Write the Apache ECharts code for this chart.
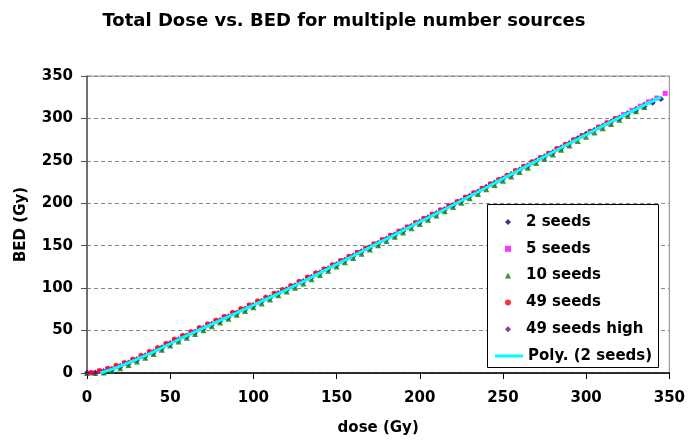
<!DOCTYPE html>
<html>
<head>
<meta charset="utf-8">
<script src="https://cdn.jsdelivr.net/npm/echarts@6/dist/echarts.min.js"></script>
<style>
html, body { margin: 0; padding: 0; background: #fff; }
#chart { width: 688px; height: 441px; }
</style>
</head>
<body>
<div id="chart"></div>
<script>
// dose grid (Gy), every 5 Gy, and the half-step grid used by 5 / 49 seeds
const dose = [0, 5, 10, 15, 20, 25, 30, 35, 40, 45, 50, 55, 60, 65, 70, 75, 80, 85, 90, 95,
  100, 105, 110, 115, 120, 125, 130, 135, 140, 145, 150, 155, 160, 165, 170, 175, 180, 185, 190, 195,
  200, 205, 210, 215, 220, 225, 230, 235, 240, 245, 250, 255, 260, 265, 270, 275, 280, 285, 290, 295,
  300, 305, 310, 315, 320, 325, 330, 335, 340, 345, 350];
const doseHalf = [2.5, 7.5, 12.5, 17.5, 22.5, 27.5, 32.5, 37.5, 42.5, 47.5, 52.5, 57.5, 62.5, 67.5, 72.5, 77.5, 82.5, 87.5, 92.5, 97.5,
  102.5, 107.5, 112.5, 117.5, 122.5, 127.5, 132.5, 137.5, 142.5, 147.5, 152.5, 157.5, 162.5, 167.5, 172.5, 177.5, 182.5, 187.5, 192.5, 197.5,
  202.5, 207.5, 212.5, 217.5, 222.5, 227.5, 232.5, 237.5, 242.5, 247.5, 252.5, 257.5, 262.5, 267.5, 272.5, 277.5, 282.5, 287.5, 292.5, 297.5,
  302.5, 307.5, 312.5, 317.5, 322.5, 327.5, 332.5, 337.5, 342.5, 347.5];

// BED (Gy) per series
const bed2 = [0, 0, 1, 3.5, 7, 11, 15, 19.5, 24, 29, 34, 38.5, 43, 47.5, 52, 56.5, 61, 65.5, 70, 74.5,
  79, 84, 88.5, 93, 97.5, 102.5, 107.5, 112.5, 117.5, 122, 127, 132.5, 137.5, 142.5, 147, 152, 157.5, 162, 167, 172.5,
  177, 182.5, 187.5, 192.5, 197, 202.5, 208, 213, 218.5, 223.5, 228.5, 233.5, 239, 244, 249.5, 254.5, 259.5, 265, 270.5, 276.5,
  282, 286.5, 291, 295.5, 300, 305, 309.5, 314, 318.5, 323, null];
const bed5 = [0, 2, 4.5, 7.5, 11, 15, 19.5, 24, 28.5, 33.5, 38.5, 43, 47.5, 52, 56.5, 61, 65.5, 70, 74.5, 79,
  83.5, 88, 93, 97.5, 102, 107, 112, 117, 122, 127, 132, 137, 142, 147, 152, 157, 162, 167, 172, 177,
  182, 187, 192, 197, 201.5, 207, 212, 217.5, 222.5, 227.5, 232.5, 238, 243, 248.5, 253.5, 258.5, 264, 269, 274.5, 279.5,
  284.5, 289.5, 294.5, 299.5, 304.5, 309.5, 314.5, 319.5, 324, 329.5];
const bed10 = [0, 0, 0.5, 2.5, 5.5, 9.5, 13.5, 18, 22.5, 27.5, 32.5, 37, 41.5, 46, 50.5, 55, 59.5, 64, 68.5, 73,
  77.5, 82, 86.5, 91.5, 96, 100.5, 105.5, 110.5, 115.5, 120.5, 125.5, 130.5, 135.5, 140.5, 145.5, 150.5, 155.5, 160.5, 165.5, 170.5,
  175.5, 180.5, 185.5, 190.5, 195.5, 200.5, 206, 211, 216.5, 221.5, 226.5, 231.5, 237, 242, 247.5, 252.5, 257.5, 263, 268, 273.5,
  278.5, 283.5, 288.5, 293.5, 298.5, 303.5, 308.5, 313.5, null, null, null];
const bed49 = [0.5, 3, 5.5, 9, 12.5, 16.5, 21, 25.5, 30, 35, 40, 44.5, 49, 53.5, 58, 62.5, 67, 71.5, 76, 80.5,
  85, 89.5, 94, 98.5, 103, 108, 113, 118, 122.5, 127.5, 132.5, 137.5, 142, 147, 152, 157, 162, 167, 172, 177,
  182, 187, 192, 197, 202, 207, 212.5, 217.5, 223, 228, 233, 238.5, 243.5, 249, 254, 259, 264.5, 269.5, 275, 280,
  285, 290, 295, 300, null, null, null, null, null, null];
const bed49high = [1, 1.2, 3, 5.5, 9, 13, 17, 21.5, 26, 31, 36, 40.5, 45, 49.5, 54, 58.5, 63, 67.5, 72, 76.5,
  81, 85.5, 90, 95, 99.5, 104, 109, 114, 119, 124, 129, 134, 139, 144, 149, 154, 159, 164, 169, 174,
  179, 184, 189, 194, 199, 204, 209.5, 214.5, 220, 225, 230, 235, 240.5, 245.5, 251, 256, 261, 266.5, 271.5, 277,
  282, 287, 292, 297, 302, 307, 312, 317, 321.5, null, null];

// polynomial trendline through 2 seeds
const polyDose = [8, 20, 40, 60, 80, 100, 125, 150, 175, 200, 225, 250, 275, 300, 325, 345];
const polyBed = [0, 8, 25, 44, 62, 80, 103, 128, 153, 178, 203, 229, 255, 281, 306, 325];

const pairs = (xs, ys) => xs.map((x, i) => [x, ys[i]]).filter(p => p[1] != null);

const chart = echarts.init(document.getElementById('chart'));
const font = '"DejaVu Sans", Verdana, sans-serif';
const legendText = { fontFamily: font, fontWeight: 'bold', fontSize: 15, color: '#000', lineHeight: 18 };

function scatter(name, xs, ys, symbol, size, color) {
  return {
    name: name,
    type: 'scatter',
    data: pairs(xs, ys),
    symbol: symbol,
    symbolSize: size,
    itemStyle: { color: color },
    emphasis: { disabled: true },
    z: 2
  };
}

chart.setOption({
  animation: false,
  backgroundColor: '#fff',
  title: {
    text: 'Total Dose vs. BED for multiple number sources',
    left: 'center',
    top: 7,
    textStyle: { fontFamily: font, fontWeight: 'bold', fontSize: 18, color: '#000' }
  },
  grid: {
    left: 87, right: 14, top: 76, bottom: 68,
    show: true, borderColor: '#888', borderWidth: 1, backgroundColor: '#fff'
  },
  legend: [{
    orient: 'vertical',
    left: 505,
    top: 213,
    padding: 0,
    z: 20,
    itemWidth: 6,
    itemHeight: 6,
    itemGap: 8.8,
    textStyle: Object.assign({ padding: [0, 0, 0, 10] }, legendText),
    data: ['2 seeds', '5 seeds', '10 seeds', '49 seeds', '49 seeds high']
  }, {
    orient: 'vertical',
    left: 495,
    top: 347,
    padding: 0,
    z: 20,
    itemWidth: 28,
    itemHeight: 3,
    textStyle: legendText,
    data: [{ name: 'Poly. (2 seeds)', icon: 'rect' }]
  }],
  graphic: [{
    type: 'rect',
    left: 487, top: 204,
    shape: { width: 171, height: 163 },
    style: { fill: '#fff', stroke: '#000', lineWidth: 1 },
    z: 10
  }],
  xAxis: {
    type: 'value',
    min: 0, max: 350, interval: 50,
    name: 'dose (Gy)',
    nameLocation: 'middle',
    nameGap: 48,
    nameTextStyle: { fontFamily: font, fontWeight: 'bold', fontSize: 15, color: '#000' },
    axisLine: { lineStyle: { color: '#000', width: 1.5 } },
    axisTick: { show: true, length: 6, inside: false, lineStyle: { color: '#000' } },
    axisLabel: { fontFamily: font, fontWeight: 'bold', fontSize: 15, color: '#000', margin: 18 },
    splitLine: { show: false }
  },
  yAxis: {
    type: 'value',
    min: 0, max: 350, interval: 50,
    name: 'BED (Gy)',
    nameLocation: 'middle',
    nameGap: 58,
    nameTextStyle: { fontFamily: font, fontWeight: 'bold', fontSize: 15, color: '#000' },
    axisLine: { show: true, lineStyle: { color: '#555', width: 1.5 } },
    axisTick: { show: true, length: 6, lineStyle: { color: '#555' } },
    axisLabel: { fontFamily: font, fontWeight: 'bold', fontSize: 15, color: '#000', margin: 14 },
    splitLine: { show: true, lineStyle: { color: '#888', type: [4, 3], width: 1 } }
  },
  series: [
    scatter('2 seeds', dose, bed2, 'diamond', 6, '#000080'),
    scatter('5 seeds', doseHalf, bed5, 'rect', 5, '#FF00FF'),
    scatter('10 seeds', dose, bed10, 'triangle', 6, '#008000'),
    scatter('49 seeds', doseHalf, bed49, 'circle', 5, '#FF0000'),
    scatter('49 seeds high', dose, bed49high, 'diamond', 5, '#800080'),
    {
      name: 'Poly. (2 seeds)',
      type: 'line',
      data: pairs(polyDose, polyBed),
      smooth: true,
      symbol: 'none',
      lineStyle: { color: '#00FFFF', width: 3 },
      itemStyle: { color: '#00FFFF' },
      emphasis: { disabled: true },
      z: 3
    }
  ]
});
</script>
</body>
</html>
